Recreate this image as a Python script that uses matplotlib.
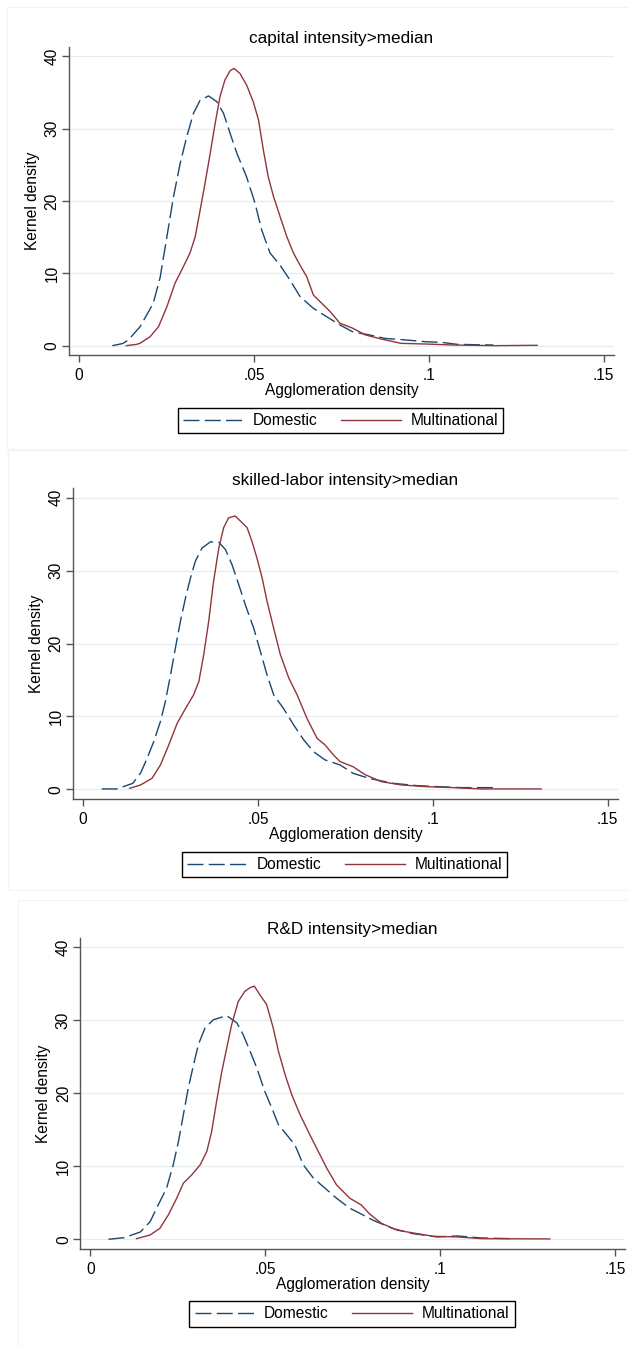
import matplotlib
matplotlib.use('Agg')
import matplotlib.pyplot as plt
from matplotlib.patches import Rectangle

# =============================================================================
# DATA
# =============================================================================

TITLES = ["capital intensity>median",
          "skilled-labor intensity>median",
          "R&D intensity>median"]
SERIES = ["Domestic", "Multinational"]
X_LABEL = "Agglomeration density"
Y_LABEL = "Kernel density"
X_TICKS = [0, 0.05, 0.1, 0.15]
X_TICK_LABELS = ["0", ".05", ".1", ".15"]
Y_TICKS = [0, 10, 20, 30, 40]
Y_TICK_LABELS = ["0", "10", "20", "30", "40"]

# capital intensity > median
cap_dom_x = [0.0095, 0.0125, 0.0141, 0.0174, 0.0212, 0.0232, 0.0251, 0.0270, 0.0289,
             0.0308, 0.0327, 0.0346, 0.0370, 0.0394, 0.0413, 0.0432, 0.0451, 0.0479,
             0.0503, 0.0522, 0.0546, 0.0575, 0.0603, 0.0632, 0.0670, 0.0708, 0.0746,
             0.0783, 0.0829, 0.0875, 0.0932, 0.0990, 0.1036, 0.1082, 0.1185]
cap_dom_y = [0.0, 0.3, 0.8, 2.6, 5.85, 9.5, 15.05, 20.6, 25.2,
             28.9, 32.1, 33.9, 34.5, 33.7, 32.1, 29.3, 26.6, 23.3,
             19.7, 16.0, 12.8, 11.1, 9.07, 6.77, 5.16, 4.0, 2.86,
             1.9, 1.5, 1.0, 0.8, 0.55, 0.46, 0.18, 0.09]
cap_mne_x = [0.0135, 0.0164, 0.0174, 0.0203, 0.0227, 0.0251, 0.0274, 0.0298, 0.0317,
             0.0332, 0.0346, 0.0360, 0.0375, 0.0389, 0.0403, 0.0417, 0.0432, 0.0443,
             0.0460, 0.0479, 0.0498, 0.0513, 0.0527, 0.0541, 0.0556, 0.0575, 0.0594,
             0.0613, 0.0632, 0.0651, 0.0670, 0.0694, 0.0718, 0.0746, 0.0783, 0.0818,
             0.0864, 0.0921, 0.0990, 0.1070, 0.1185, 0.1310]
cap_mne_y = [0.0, 0.18, 0.33, 1.24, 2.62, 5.38, 8.6, 10.9, 12.8,
             15.05, 18.7, 22.4, 26.6, 30.7, 34.4, 36.7, 38.0, 38.3,
             37.6, 36.0, 33.7, 31.2, 27.0, 23.3, 20.6, 17.8, 15.05,
             12.8, 11.1, 9.53, 7.0, 5.85, 4.7, 3.1, 2.4, 1.5,
             0.92, 0.32, 0.23, 0.09, 0.0, 0.05]

# skilled-labor intensity > median
skl_dom_x = [0.0053, 0.0096, 0.0142, 0.0164, 0.0183, 0.0202, 0.0221, 0.0235, 0.0250,
             0.0264, 0.0278, 0.0293, 0.0307, 0.0321, 0.0340, 0.0364, 0.0388, 0.0407,
             0.0426, 0.0445, 0.0464, 0.0488, 0.0507, 0.0526, 0.0545, 0.0573, 0.0602,
             0.0631, 0.0659, 0.0692, 0.0735, 0.0772, 0.0818, 0.0887, 0.0956, 0.1013,
             0.1082, 0.1173]
skl_dom_y = [0.05, 0.05, 0.82, 2.2, 4.26, 6.55, 9.3, 12.0, 15.7,
             19.4, 23.0, 26.3, 29.0, 31.3, 33.1, 33.95, 33.9, 32.9,
             30.8, 28.1, 25.3, 22.1, 18.9, 15.7, 12.96, 11.1, 8.84,
             6.78, 5.17, 4.03, 3.34, 2.2, 1.5, 0.82, 0.5, 0.37,
             0.23, 0.23]
skl_mne_x = [0.0133, 0.0164, 0.0197, 0.0221, 0.0245, 0.0269, 0.0293, 0.0316, 0.0331,
             0.0345, 0.0359, 0.0373, 0.0388, 0.0402, 0.0416, 0.0435, 0.0450, 0.0469,
             0.0483, 0.0497, 0.0512, 0.0526, 0.0545, 0.0564, 0.0588, 0.0612, 0.0640,
             0.0669, 0.0692, 0.0716, 0.0735, 0.0772, 0.0807, 0.0853, 0.0910, 0.0979,
             0.1059, 0.1139, 0.1310]
skl_mne_y = [0.14, 0.59, 1.51, 3.34, 6.09, 9.07, 11.1, 12.96, 14.8,
             18.5, 23.0, 28.5, 33.1, 35.9, 37.25, 37.5, 36.8, 35.9,
             34.0, 31.75, 29.0, 25.8, 22.1, 18.5, 15.3, 12.96, 9.76,
             7.0, 6.09, 4.71, 3.8, 3.1, 2.0, 1.05, 0.6, 0.37,
             0.23, 0.05, 0.05]

# R&D intensity > median
rnd_dom_x = [0.0052, 0.0097, 0.0143, 0.0171, 0.0194, 0.0218, 0.0237, 0.0252, 0.0266,
             0.0280, 0.0295, 0.0309, 0.0328, 0.0352, 0.0390, 0.0419, 0.0437, 0.0457,
             0.0476, 0.0499, 0.0519, 0.0538, 0.0562, 0.0585, 0.0609, 0.0638, 0.0666,
             0.0704, 0.0742, 0.0763, 0.0809, 0.0866, 0.0923, 0.0992, 0.1050, 0.1118,
             0.1199]
rnd_dom_y = [0.0, 0.23, 1.0, 2.42, 4.71, 7.0, 10.2, 13.4, 17.07,
             20.7, 23.9, 26.7, 28.97, 30.1, 30.66, 29.66, 28.05, 25.76,
             23.48, 20.27, 17.99, 15.7, 14.3, 12.95, 10.2, 8.38, 7.22,
             5.63, 4.26, 3.75, 2.6, 1.46, 0.78, 0.32, 0.46, 0.18,
             0.09]
rnd_mne_x = [0.0132, 0.0171, 0.0199, 0.0223, 0.0247, 0.0266, 0.0290, 0.0314, 0.0333,
             0.0347, 0.0361, 0.0376, 0.0390, 0.0404, 0.0423, 0.0442, 0.0457, 0.0469,
             0.0485, 0.0504, 0.0523, 0.0538, 0.0557, 0.0576, 0.0600, 0.0628, 0.0652,
             0.0676, 0.0704, 0.0742, 0.0775, 0.0798, 0.0832, 0.0878, 0.0923, 0.0981,
             0.1050, 0.1118, 0.1314]
rnd_mne_y = [0.09, 0.59, 1.51, 3.34, 5.63, 7.69, 8.83, 10.2, 12.03,
             14.78, 18.9, 23.0, 26.2, 29.4, 32.6, 34.0, 34.5, 34.7,
             33.5, 32.2, 28.97, 25.76, 22.56, 19.8, 17.07, 14.3, 12.03,
             9.75, 7.46, 5.63, 4.7, 3.5, 2.2, 1.24, 0.87, 0.41,
             0.32, 0.09, 0.05]

PANELS = [
    (cap_dom_x, cap_dom_y, cap_mne_x, cap_mne_y),
    (skl_dom_x, skl_dom_y, skl_mne_x, skl_mne_y),
    (rnd_dom_x, rnd_dom_y, rnd_mne_x, rnd_mne_y),
]

# =============================================================================
# LAYOUT (pixel boxes of the reference)
# =============================================================================

W, H = 629, 1347
NAVY = '#1a476f'
MAROON = '#90353b'
AXIS_GRAY = '#555555'
GRID = '#e4eeef'
FONT = 11.2

# left, top, right, bottom of each plot region
AX_BOXES = [(69, 46.7, 613.7, 355.3),
            (73, 488.3, 617.7, 799.0),
            (80.2, 938.0, 625.0, 1249.0)]
# legend centres
LEG_CENTRES = [(340.5, 420.5), (344.5, 864.5), (351.9, 1314.0)]
# faint outer borders of each sub-graph: left, top, bottom
BORDERS = [(7, 7, 449), (8, 450, 890), (18, 900, 1360)]

plt.rcParams['font.family'] = ['Liberation Sans', 'DejaVu Sans']


def px_rect(left, top, right, bottom):
    return [left / W, 1 - bottom / H, (right - left) / W, (bottom - top) / H]


def draw_panel(fig, idx):
    left, top, right, bottom = AX_BOXES[idx]
    dom_x, dom_y, mne_x, mne_y = PANELS[idx]
    ax = fig.add_axes(px_rect(left, top, right, bottom))
    w_px, h_px = right - left, bottom - top

    for yv in Y_TICKS:
        ax.axhline(yv, color=GRID, lw=0.9, zorder=0)

    ax.plot(dom_x, dom_y, color=NAVY, lw=1.0, dashes=(11.5, 3.8), label=SERIES[0])
    ax.plot(mne_x, mne_y, color=MAROON, lw=1.0, label=SERIES[1])

    ax.set_xlim(-0.0029, 0.1529)
    ax.set_ylim(-1.33, 41.3)

    for side in ('top', 'right'):
        ax.spines[side].set_visible(False)
    for side in ('left', 'bottom'):
        ax.spines[side].set_color(AXIS_GRAY)
        ax.spines[side].set_linewidth(1.0)

    ax.set_xticks(X_TICKS, labels=X_TICK_LABELS)
    ax.set_yticks(Y_TICKS, labels=Y_TICK_LABELS, rotation=90, va='center')
    ax.tick_params(axis='both', direction='out', length=4.7, width=1.0,
                   color=AXIS_GRAY, labelsize=FONT, labelcolor='black')
    ax.tick_params(axis='x', pad=4.6)
    ax.tick_params(axis='y', pad=2.0)

    ax.set_xlabel(X_LABEL, fontsize=FONT)
    ax.xaxis.set_label_coords(0.5, -27.5 / h_px)
    ax.set_ylabel(Y_LABEL, fontsize=FONT)
    ax.yaxis.set_label_coords(-29.0 / w_px, 0.5)

    ax.set_title(TITLES[idx], fontsize=12.3, pad=2.6)

    cx, cy = LEG_CENTRES[idx]
    leg = ax.legend(loc='center', bbox_to_anchor=(cx / W, 1 - cy / H),
                    bbox_transform=fig.transFigure, ncol=2, fontsize=FONT,
                    frameon=True, fancybox=False, framealpha=1,
                    edgecolor='black', borderpad=0.35, handlelength=3.85,
                    handletextpad=0.6, columnspacing=1.54, borderaxespad=0)
    leg.get_frame().set_linewidth(1.0)
    return ax


def main():
    fig = plt.figure(figsize=(W / 100, H / 100), dpi=100)

    # faint frames around the three combined graphs
    for bx, by_top, by_bot in BORDERS:
        fig.patches.append(Rectangle((bx / W, 1 - by_bot / H), (W + 20 - bx) / W,
                                     (by_bot - by_top) / H, transform=fig.transFigure,
                                     fill=False, edgecolor='#f1f3f4', lw=0.8))

    for i in range(3):
        draw_panel(fig, i)

    fig.savefig('out.png', dpi=100)


if __name__ == "__main__":
    main()
